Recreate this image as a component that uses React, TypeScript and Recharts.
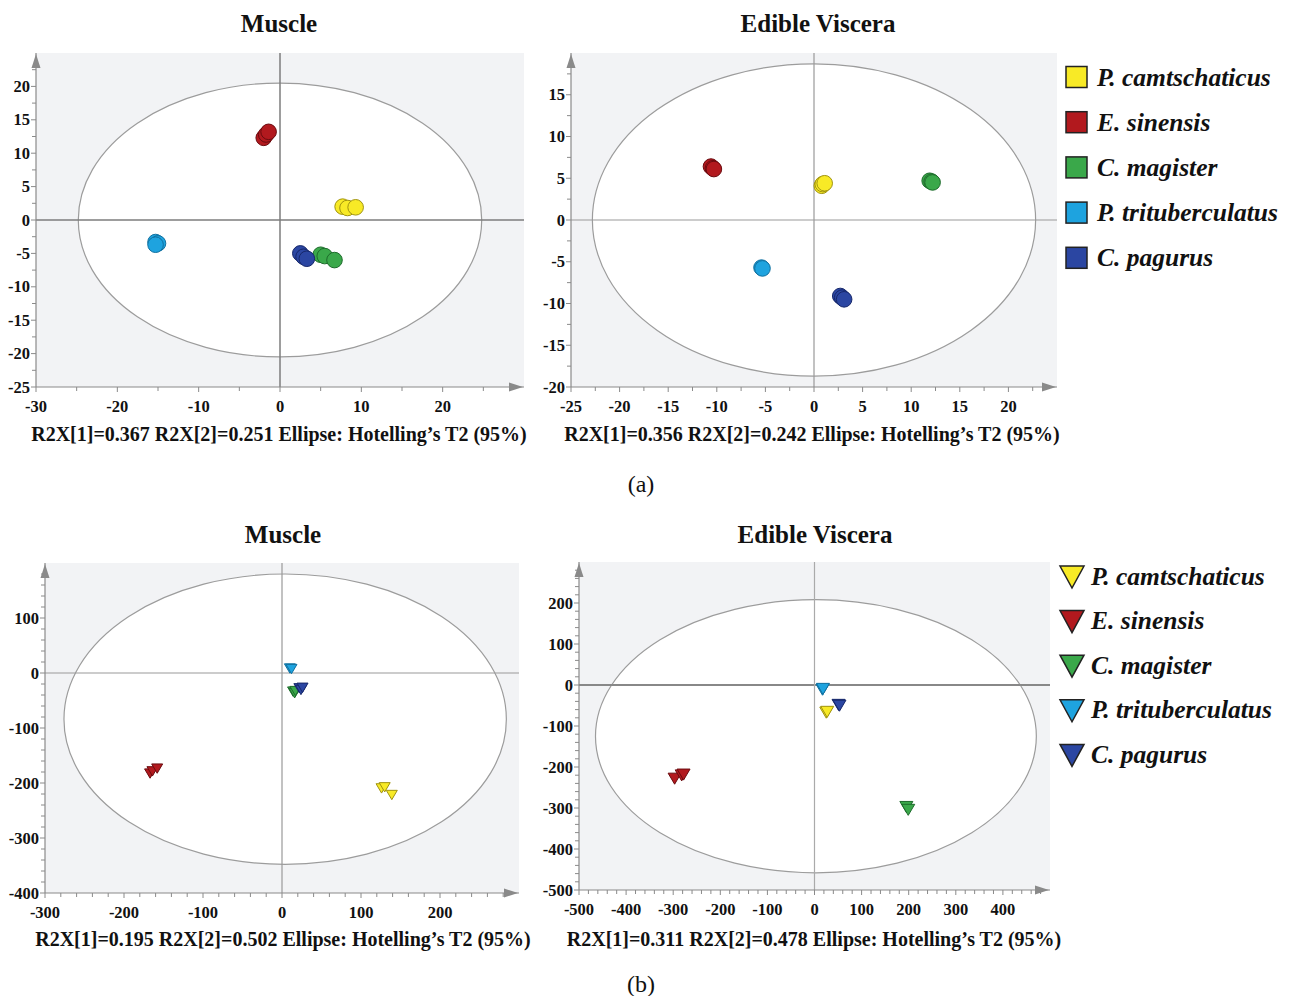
import React from 'react'
import {
  ScatterChart, Scatter, XAxis, YAxis, CartesianGrid,
  ReferenceLine, ReferenceArea, ReferenceDot,
} from 'recharts'

const FONT = '"Liberation Serif", "Times New Roman", Times, serif'
const AXIS = '#8a8a8a'
const PLOT_BG = '#f2f3f5'

const species = ['P. camtschaticus', 'E. sinensis', 'C. magister', 'P. trituberculatus', 'C. pagurus']
const fills = ['#f8ea26', '#b2191e', '#3aa84a', '#1ea3df', '#2b46a2']
const edges = ['#a09310', '#6a0b0f', '#1d6b2b', '#11709f', '#16276a']

type Pt = { x: number; y: number }

// PCA scores, one list per species (same order as `species`)
const muscleA: Pt[][] = [
  [{ x: 7.7, y: 2.0 }, { x: 8.3, y: 1.8 }, { x: 9.3, y: 1.9 }],
  [{ x: -2.0, y: 12.3 }, { x: -1.7, y: 12.8 }, { x: -1.4, y: 13.2 }],
  [{ x: 5.0, y: -5.2 }, { x: 5.5, y: -5.4 }, { x: 6.7, y: -6.0 }],
  [{ x: -15.3, y: -3.3 }, { x: -15.0, y: -3.5 }, { x: -15.3, y: -3.7 }],
  [{ x: 2.5, y: -5.0 }, { x: 2.9, y: -5.5 }, { x: 3.3, y: -5.8 }],
]
const visceraA: Pt[][] = [
  [{ x: 0.8, y: 4.1 }, { x: 0.9, y: 4.3 }, { x: 1.1, y: 4.4 }],
  [{ x: -10.6, y: 6.4 }, { x: -10.4, y: 6.2 }, { x: -10.3, y: 6.1 }],
  [{ x: 11.9, y: 4.7 }, { x: 12.1, y: 4.6 }, { x: 12.2, y: 4.5 }],
  [{ x: -5.4, y: -5.7 }, { x: -5.3, y: -5.8 }],
  [{ x: 2.7, y: -9.1 }, { x: 2.9, y: -9.3 }, { x: 3.1, y: -9.5 }],
]
const muscleB: Pt[][] = [
  [{ x: 126, y: -207 }, { x: 130, y: -205 }, { x: 139, y: -219 }],
  [{ x: -167, y: -180 }, { x: -164, y: -176 }, { x: -158, y: -171 }],
  [{ x: 14, y: -31 }, { x: 16, y: -34 }, { x: 17, y: -30 }],
  [{ x: 10, y: 11 }, { x: 12, y: 10 }],
  [{ x: 22, y: -25 }, { x: 24, y: -28 }, { x: 26, y: -24 }],
]
const visceraB: Pt[][] = [
  [{ x: 25, y: -63 }, { x: 27, y: -61 }],
  [{ x: -297, y: -224 }, { x: -282, y: -216 }, { x: -278, y: -214 }],
  [{ x: 195, y: -293 }, { x: 199, y: -300 }],
  [{ x: 17, y: -7 }, { x: 18, y: -5 }],
  [{ x: 51, y: -44 }, { x: 53, y: -46 }],
]

// labelled ticks
const muscleAXTicks = [-30, -20, -10, 0, 10, 20]
const muscleAYTicks = [-25, -20, -15, -10, -5, 0, 5, 10, 15, 20]
const visceraAXTicks = [-25, -20, -15, -10, -5, 0, 5, 10, 15, 20]
const visceraAYTicks = [-20, -15, -10, -5, 0, 5, 10, 15]
const muscleBXTicks = [-300, -200, -100, 0, 100, 200]
const muscleBYTicks = [-400, -300, -200, -100, 0, 100]
const visceraBXTicks = [-500, -400, -300, -200, -100, 0, 100, 200, 300, 400]
const visceraBYTicks = [-500, -400, -300, -200, -100, 0, 100, 200]

// Hotelling's T2 (95%) ellipses: centre and half axes
const muscleAEllipse = { cx: 0, cy: 0, rx: 24.8, ry: 20.5 }
const visceraAEllipse = { cx: 0, cy: 0, rx: 22.8, ry: 18.7 }
const muscleBEllipse = { cx: 4, cy: -84, rx: 280, ry: 264 }
const visceraBEllipse = { cx: 3, cy: -125, rx: 468, ry: 333 }

const near = (a: number, b: number) => Math.abs(a - b) < 1e-6

function allTicks(min: number, max: number, step: number) {
  const out: number[] = []
  for (let v = min; v < max - step / 2; v += step) out.push(Math.round(v * 1000) / 1000)
  return out
}

const XTick = (majors: number[]) => (p: any) => {
  const { x, y, payload } = p
  const major = majors.some((m) => near(m, payload.value))
  return (
    <g>
      <line x1={x} y1={y} x2={x} y2={y + (major ? 5 : 4)} stroke={AXIS} strokeWidth={1} />
      {major && (
        <text x={x} y={y + 25} textAnchor="middle" fontFamily={FONT} fontWeight="bold" fontSize={16.5} fill="#111">
          {payload.value}
        </text>
      )}
    </g>
  )
}

const YTick = (majors: number[]) => (p: any) => {
  const { x, y, payload } = p
  const major = majors.some((m) => near(m, payload.value))
  return (
    <g>
      <line x1={x} y1={y} x2={x - (major ? 5 : 4)} y2={y} stroke={AXIS} strokeWidth={1} />
      {major && (
        <text x={x - 6} y={y + 5.5} textAnchor="end" fontFamily={FONT} fontWeight="bold" fontSize={16.5} fill="#111">
          {payload.value}
        </text>
      )}
    </g>
  )
}

const circle = (fill: string, edge: string) => (p: any) => (
  <circle cx={p.cx} cy={p.cy} r={7.8} fill={fill} stroke={edge} strokeWidth={1} />
)

const triangle = (fill: string, edge: string, w: number) => (p: any) => {
  const h = w * 0.85
  const pts = `${p.cx - w / 2},${p.cy - h / 3} ${p.cx + w / 2},${p.cy - h / 3} ${p.cx},${p.cy + (2 * h) / 3}`
  return <polygon points={pts} fill={fill} stroke={edge} strokeWidth={1} />
}

interface PanelProps {
  left: number
  top: number
  width: number
  height: number
  xDomain: [number, number]
  yDomain: [number, number]
  xMajors: number[]
  yMajors: number[]
  xStep: number
  yStep: number
  ellipse: { cx: number; cy: number; rx: number; ry: number }
  groups: Pt[][]
  marker: 'circle' | 'triangle'
  markerSize?: number
  zeroX?: { stroke: string; width: number }
  zeroY?: { stroke: string; width: number }
}

function Panel(props: PanelProps) {
  const { left, top, width, height, xDomain, yDomain, ellipse } = props
  const yW = 50
  const xH = 40
  const mTop = 10
  const mRight = 10
  const zx = props.zeroX ?? { stroke: '#999', width: 1.2 }
  const zy = props.zeroY ?? { stroke: '#999', width: 1.2 }
  return (
    <div style={{ position: 'absolute', left: left - yW, top: top - mTop }}>
      <ScatterChart
        width={width + yW + mRight}
        height={height + mTop + xH}
        margin={{ top: mTop, right: mRight, bottom: 0, left: 0 }}
      >
        <CartesianGrid stroke="none" fill={PLOT_BG} horizontal={false} vertical={false} />
        <XAxis
          type="number"
          dataKey="x"
          domain={xDomain}
          allowDataOverflow
          ticks={allTicks(xDomain[0], xDomain[1], props.xStep)}
          interval={0}
          tickSize={0}
          tickMargin={0}
          tickLine={false}
          height={xH}
          axisLine={{ stroke: AXIS, strokeWidth: 1.2 }}
          tick={XTick(props.xMajors)}
        />
        <YAxis
          type="number"
          dataKey="y"
          domain={yDomain}
          allowDataOverflow
          ticks={allTicks(yDomain[0], yDomain[1], props.yStep)}
          interval={0}
          tickSize={0}
          tickMargin={0}
          tickLine={false}
          width={yW}
          axisLine={{ stroke: AXIS, strokeWidth: 1.2 }}
          tick={YTick(props.yMajors)}
        />
        <ReferenceArea
          x1={ellipse.cx - ellipse.rx}
          x2={ellipse.cx + ellipse.rx}
          y1={ellipse.cy - ellipse.ry}
          y2={ellipse.cy + ellipse.ry}
          shape={(p: any) => (
            <ellipse
              cx={p.x + p.width / 2}
              cy={p.y + p.height / 2}
              rx={Math.abs(p.width) / 2}
              ry={Math.abs(p.height) / 2}
              fill="#ffffff"
              stroke="#9c9c9c"
              strokeWidth={1.2}
            />
          )}
        />
        <ReferenceLine y={0} stroke={zy.stroke} strokeWidth={zy.width} />
        <ReferenceLine x={0} stroke={zx.stroke} strokeWidth={zx.width} />
        <ReferenceDot
          x={xDomain[0]}
          y={yDomain[1]}
          ifOverflow="visible"
          shape={(p: any) => (
            <polygon points={`${p.cx},${p.cy + 1} ${p.cx - 4.5},${p.cy + 15} ${p.cx + 4.5},${p.cy + 15}`} fill={AXIS} />
          )}
        />
        <ReferenceDot
          x={xDomain[1]}
          y={yDomain[0]}
          ifOverflow="visible"
          shape={(p: any) => (
            <polygon points={`${p.cx - 1},${p.cy} ${p.cx - 15},${p.cy - 4.5} ${p.cx - 15},${p.cy + 4.5}`} fill={AXIS} />
          )}
        />
        {props.groups.map((g, i) => (
          <Scatter
            key={species[i]}
            name={species[i]}
            data={g}
            isAnimationActive={false}
            shape={
              props.marker === 'circle'
                ? circle(fills[i], edges[i])
                : triangle(fills[i], edges[i], props.markerSize ?? 12)
            }
          />
        ))}
      </ScatterChart>
    </div>
  )
}

const titleStyle = { fontFamily: FONT, fontWeight: 'bold' as const, fontSize: 25, fill: '#111' }
const noteStyle = { fontFamily: FONT, fontWeight: 'bold' as const, fontSize: 20, fill: '#111' }
const legendStyle = { fontFamily: FONT, fontWeight: 'bold' as const, fontStyle: 'italic' as const, fontSize: 25.5, fill: '#111' }

function Labels() {
  return (
    <svg width={1296} height={996} style={{ position: 'absolute', left: 0, top: 0, pointerEvents: 'none' }}>
      <text x={279} y={32} textAnchor="middle" {...titleStyle}>Muscle</text>
      <text x={818} y={32} textAnchor="middle" {...titleStyle}>Edible Viscera</text>
      <text x={279} y={441} textAnchor="middle" {...noteStyle}>R2X[1]=0.367 R2X[2]=0.251 Ellipse: Hotelling’s T2 (95%)</text>
      <text x={812} y={441} textAnchor="middle" {...noteStyle}>R2X[1]=0.356 R2X[2]=0.242 Ellipse: Hotelling’s T2 (95%)</text>
      <text x={641} y={492} textAnchor="middle" fontFamily={FONT} fontSize={24} fill="#111">(a)</text>

      <text x={283} y={543} textAnchor="middle" {...titleStyle}>Muscle</text>
      <text x={815} y={543} textAnchor="middle" {...titleStyle}>Edible Viscera</text>
      <text x={283} y={946} textAnchor="middle" {...noteStyle}>R2X[1]=0.195 R2X[2]=0.502 Ellipse: Hotelling’s T2 (95%)</text>
      <text x={814} y={946} textAnchor="middle" {...noteStyle}>R2X[1]=0.311 R2X[2]=0.478 Ellipse: Hotelling’s T2 (95%)</text>
      <text x={641} y={992} textAnchor="middle" fontFamily={FONT} fontSize={24} fill="#111">(b)</text>

      {species.map((s, i) => {
        const cy = 77 + i * 45.2
        return (
          <g key={'a' + s}>
            <rect x={1066} y={cy - 10.5} width={21} height={21} fill={fills[i]} stroke="#222" strokeWidth={1.5} />
            <text x={1097} y={cy + 8.5} {...legendStyle}>{s}</text>
          </g>
        )
      })}
      {species.map((s, i) => {
        const cy = 576 + i * 44.6
        return (
          <g key={'b' + s}>
            <polygon
              points={`${1060},${cy - 10} ${1084},${cy - 10} ${1072},${cy + 12}`}
              fill={fills[i]}
              stroke="#222"
              strokeWidth={1.5}
            />
            <text x={1091} y={cy + 8.5} {...legendStyle}>{s}</text>
          </g>
        )
      })}
    </svg>
  )
}

export default function App() {
  return (
    <div style={{ position: 'absolute', left: 0, top: 0, width: 1296, height: 996, background: '#fff' }}>
      <Panel
        left={36} top={53} width={488} height={334}
        xDomain={[-30, 30]} yDomain={[-25, 25]}
        xMajors={muscleAXTicks} yMajors={muscleAYTicks} xStep={5} yStep={2.5}
        ellipse={muscleAEllipse} groups={muscleA} marker="circle"
        zeroX={{ stroke: '#7d7d7d', width: 1.5 }} zeroY={{ stroke: '#7d7d7d', width: 1.5 }}
      />
      <Panel
        left={571} top={53} width={486} height={334}
        xDomain={[-25, 25]} yDomain={[-20, 20]}
        xMajors={visceraAXTicks} yMajors={visceraAYTicks} xStep={2.5} yStep={2.5}
        ellipse={visceraAEllipse} groups={visceraA} marker="circle"
      />
      <Panel
        left={45} top={563} width={474} height={330}
        xDomain={[-300, 300]} yDomain={[-400, 200]}
        xMajors={muscleBXTicks} yMajors={muscleBYTicks} xStep={20} yStep={20}
        ellipse={muscleBEllipse} groups={muscleB} marker="triangle" markerSize={11}
      />
      <Panel
        left={579} top={562} width={471} height={328}
        xDomain={[-500, 500]} yDomain={[-500, 300]}
        xMajors={visceraBXTicks} yMajors={visceraBYTicks} xStep={20} yStep={20}
        ellipse={visceraBEllipse} groups={visceraB} marker="triangle" markerSize={13}
        zeroY={{ stroke: '#888', width: 2 }} zeroX={{ stroke: '#aaa', width: 1.2 }}
      />
      <Labels />
    </div>
  )
}
